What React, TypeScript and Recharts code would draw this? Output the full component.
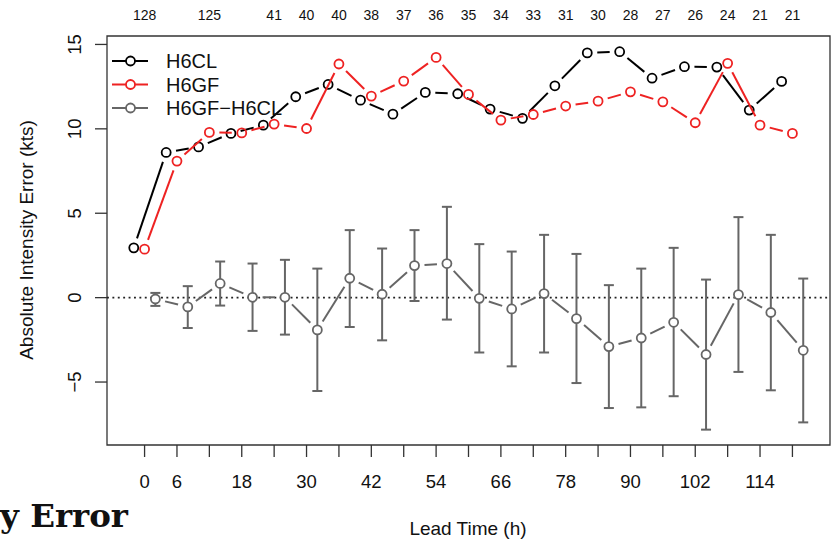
import React from "react";
import {
  ComposedChart,
  Line,
  XAxis,
  YAxis,
  ErrorBar,
  ReferenceLine,
  ReferenceArea,
} from "recharts";

// lead times (h)
const hours = [0, 6, 12, 18, 24, 30, 36, 42, 48, 54, 60, 66, 72, 78, 84, 90, 96, 102, 108, 114, 120];
const h6cl = [2.95, 8.6, 8.93, 9.73, 10.22, 11.9, 12.63, 11.7, 10.87, 12.16, 12.08, 11.17, 10.62, 12.55, 14.5, 14.57, 13.0, 13.68, 13.66, 11.11, 12.81];
const h6gf = [2.87, 8.09, 9.79, 9.76, 10.28, 10.02, 13.84, 11.94, 12.83, 14.23, 12.04, 10.52, 10.85, 11.35, 11.64, 12.19, 11.6, 10.36, 13.88, 10.22, 9.73];
const diff = [-0.08, -0.55, 0.84, 0.02, 0.02, -1.91, 1.15, 0.2, 1.9, 2.02, -0.04, -0.67, 0.24, -1.24, -2.9, -2.39, -1.46, -3.37, 0.18, -0.88, -3.12];
const diffLo = [-0.49, -1.8, -0.47, -1.97, -2.19, -5.53, -1.74, -2.53, -0.2, -1.3, -3.25, -4.07, -3.25, -5.06, -6.54, -6.5, -5.84, -7.82, -4.4, -5.49, -7.39];
const diffHi = [0.28, 0.68, 2.14, 2.02, 2.24, 1.72, 4.0, 2.91, 4.0, 5.38, 3.17, 2.73, 3.72, 2.59, 0.74, 1.72, 2.95, 1.07, 4.77, 3.72, 1.13];

// sample sizes along the top
const countHours = [0, 12, 24, 30, 36, 42, 48, 54, 60, 66, 72, 78, 84, 90, 96, 102, 108, 114, 120];
const counts = [128, 125, 41, 40, 40, 38, 37, 36, 35, 34, 33, 31, 30, 28, 27, 26, 24, 21, 21];

const xLabelHours = [0, 6, 18, 30, 42, 54, 66, 78, 90, 102, 114];
const yTicks = [-5, 0, 5, 10, 15];

const X_DOMAIN: [number, number] = [-6.96, 126.96];
const Y_DOMAIN: [number, number] = [-8.73, 15.5];
const CL_SHIFT = -2;
const DIFF_SHIFT = 2;

const clData = hours.map((h, i) => ({ x: h + CL_SHIFT, y: h6cl[i] }));
const gfData = hours.map((h, i) => ({ x: h, y: h6gf[i] }));
const diffData = hours.map((h, i) => ({
  x: h + DIFF_SHIFT,
  y: diff[i],
  err: [diff[i] - diffLo[i], diffHi[i] - diff[i]],
}));

const FONT = "'Liberation Sans', Arial, Helvetica, sans-serif";
const RED = "#ee2222";
const GRAY = "#666666";

// R type="b": points joined by segments that stop short of each point
function gappedDot(color: string, fill: string, gap: number) {
  return (props: any) => {
    const { cx, cy, index, points } = props;
    const next = points && points[index + 1];
    let seg = null;
    if (next) {
      const dx = next.x - cx;
      const dy = next.y - cy;
      const len = Math.hypot(dx, dy);
      if (len > 2 * gap) {
        const ux = dx / len;
        const uy = dy / len;
        seg = (
          <line
            x1={cx + ux * gap}
            y1={cy + uy * gap}
            x2={next.x - ux * gap}
            y2={next.y - uy * gap}
            stroke={color}
            strokeWidth={2}
          />
        );
      }
    }
    return (
      <g key={`dot-${index}`}>
        {seg}
        <circle cx={cx} cy={cy} r={4.5} fill={fill} stroke={color} strokeWidth={1.8} />
      </g>
    );
  };
}

const textStyle = { fontFamily: FONT, fill: "#111" };

function BottomTick({ x, payload }: any) {
  if (!xLabelHours.includes(payload.value)) return null;
  return (
    <text x={x} y={481} textAnchor="middle" dominantBaseline="central" style={{ ...textStyle, fontSize: 18.5 }}>
      {payload.value}
    </text>
  );
}

function TopTick({ x, payload }: any) {
  const i = countHours.indexOf(payload.value);
  return (
    <text x={x} y={15} textAnchor="middle" dominantBaseline="central" style={{ ...textStyle, fontSize: 14 }}>
      {counts[i]}
    </text>
  );
}

function LeftTick({ y, payload }: any) {
  return (
    <text
      x={75}
      y={y}
      transform={`rotate(-90, 75, ${y})`}
      textAnchor="middle"
      dominantBaseline="central"
      style={{ ...textStyle, fontSize: 18.5 }}
    >
      {payload.value < 0 ? `\u2212${Math.abs(payload.value)}` : payload.value}
    </text>
  );
}

const legendItems = [
  { label: "H6CL", color: "#000" },
  { label: "H6GF", color: RED },
  { label: "H6GF\u2212H6CL", color: GRAY },
];

export default function App() {
  return (
    <div style={{ position: "absolute", left: 0, top: 0, width: 833, height: 540, background: "#fff" }}>
      <ComposedChart width={833} height={540} margin={{ top: 0, right: 3, bottom: 0, left: 0 }}>
        <XAxis
          xAxisId="top"
          orientation="top"
          type="number"
          dataKey="x"
          domain={X_DOMAIN}
          ticks={countHours}
          interval={0}
          height={36}
          axisLine={false}
          tickLine={false}
          tick={<TopTick />}
          allowDataOverflow
        />
        <XAxis
          xAxisId="main"
          type="number"
          dataKey="x"
          domain={X_DOMAIN}
          ticks={hours}
          interval={0}
          height={95}
          axisLine={false}
          tickSize={12}
          tickLine={{ stroke: "#333", strokeWidth: 1.3 }}
          tick={<BottomTick />}
          allowDataOverflow
        />
        <YAxis
          yAxisId="y"
          type="number"
          domain={Y_DOMAIN}
          ticks={yTicks}
          interval={0}
          width={107}
          axisLine={false}
          tickSize={12}
          tickLine={{ stroke: "#333", strokeWidth: 1.3 }}
          tick={<LeftTick />}
          allowDataOverflow
        />
        <ReferenceArea
          xAxisId="main"
          yAxisId="y"
          x1={X_DOMAIN[0]}
          x2={X_DOMAIN[1]}
          y1={Y_DOMAIN[0]}
          y2={Y_DOMAIN[1]}
          fill="none"
          stroke="#333"
          strokeWidth={1.3}
          ifOverflow="visible"
        />
        <ReferenceLine xAxisId="main" yAxisId="y" y={0} stroke="#222" strokeWidth={1.9} strokeDasharray="1.9 3.5" />
        <Line
          xAxisId="main"
          yAxisId="y"
          data={diffData}
          dataKey="y"
          stroke="none"
          dot={gappedDot(GRAY, "#fff", 10)}
          activeDot={false}
          isAnimationActive={false}
        >
          <ErrorBar dataKey="err" direction="y" width={5} stroke={GRAY} strokeWidth={2} />
        </Line>
        <Line
          xAxisId="main"
          yAxisId="y"
          data={clData}
          dataKey="y"
          stroke="none"
          dot={gappedDot("#000", "none", 10)}
          activeDot={false}
          isAnimationActive={false}
        />
        <Line
          xAxisId="main"
          yAxisId="y"
          data={gfData}
          dataKey="y"
          stroke="none"
          dot={gappedDot(RED, "none", 10)}
          activeDot={false}
          isAnimationActive={false}
        />
      </ComposedChart>
      <svg width={833} height={540} style={{ position: "absolute", left: 0, top: 0, pointerEvents: "none" }}>
        {legendItems.map((d, i) => (
          <g key={d.label}>
            <line x1={112} x2={148} y1={61 + i * 23.5} y2={61 + i * 23.5} stroke={d.color} strokeWidth={2} />
            <circle cx={130.5} cy={61 + i * 23.5} r={4.5} fill="#fff" stroke={d.color} strokeWidth={1.8} />
            <text x={166} y={61 + i * 23.5} dominantBaseline="central" style={{ ...textStyle, fontSize: 20 }}>
              {d.label}
            </text>
          </g>
        ))}
        <text
          x={26}
          y={240}
          transform="rotate(-90, 26, 240)"
          textAnchor="middle"
          dominantBaseline="central"
          style={{ ...textStyle, fontSize: 19 }}
        >
          Absolute Intensity Error (kts)
        </text>
        <text x={468} y={528} textAnchor="middle" dominantBaseline="central" style={{ ...textStyle, fontSize: 19 }}>
          Lead Time (h)
        </text>
        <text
          x={128}
          y={527}
          textAnchor="end"
          style={{ fontFamily: "'DejaVu Serif', serif", fontWeight: "bold", fontSize: 32.5, fill: "#111" }}
        >
          y Error
        </text>
      </svg>
    </div>
  );
}
